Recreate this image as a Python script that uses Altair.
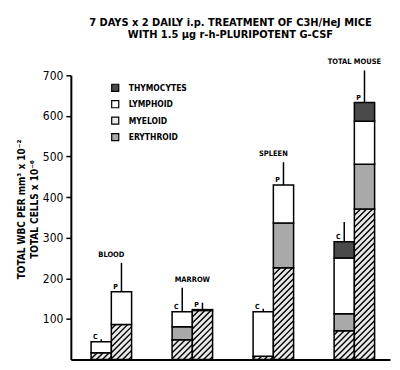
import altair as alt
import pandas as pd

# ---------------- data ----------------
groups = ["BLOOD", "MARROW", "SPLEEN", "TOTAL MOUSE"]
treatments = ["C", "P"]
cell_types = ["THYMOCYTES", "LYMPHOID", "MYELOID", "ERYTHROID"]
stack_order = ["MYELOID", "ERYTHROID", "LYMPHOID", "THYMOCYTES"]

myeloid_c = [17, 49, 8, 71]
myeloid_p = [86, 121, 226, 371]
erythroid_c = [0, 32, 0, 42]
erythroid_p = [0, 0, 110, 110]
lymphoid_c = [27, 37, 110, 137]
lymphoid_p = [81, 2, 94, 106]
thymocytes_c = [0, 0, 0, 40]
thymocytes_p = [0, 0, 0, 46]
error_top_c = [50, 177, 125, 339]
error_top_p = [238, 140, 486, 712]

title_lines = ["7 DAYS  x 2 DAILY i.p. TREATMENT OF C3H/HeJ MICE",
               "WITH 1.5 \u03bcg r-h-PLURIPOTENT G-CSF"]
y_title = ["TOTAL WBC PER mm\u00b3 x 10\u207b\u00b2", "TOTAL CELLS x 10\u207b\u2076"]
y_ticks = [100, 200, 300, 400, 500, 600, 700]

# ---------------- layout / style ----------------
W, H = 320, 285
XMIN, XMAX = -0.5, 3.44
YMAX = 700
BAR_W = 0.25
PXX = W / (XMAX - XMIN)
PXY = H / YMAX
HATCH = 6.0
FONT = "DejaVu Sans Condensed, Liberation Sans Narrow, DejaVu Sans, sans-serif"
fills = ["#4a4a4a", "#ffffff", "#eaeaea", "#a9a9a9"]

values = {
    ("C", "MYELOID"): myeloid_c, ("P", "MYELOID"): myeloid_p,
    ("C", "ERYTHROID"): erythroid_c, ("P", "ERYTHROID"): erythroid_p,
    ("C", "LYMPHOID"): lymphoid_c, ("P", "LYMPHOID"): lymphoid_p,
    ("C", "THYMOCYTES"): thymocytes_c, ("P", "THYMOCYTES"): thymocytes_p,
}
errs = {"C": error_top_c, "P": error_top_p}

seg_rows, bar_rows, hatch_rows, group_rows = [], [], [], []
for gi, g in enumerate(groups):
    for t in treatments:
        x0 = gi - BAR_W if t == "C" else gi
        x1 = x0 + BAR_W
        base = 0
        for ct in stack_order:
            v = values[(t, ct)][gi]
            if v <= 0:
                continue
            seg_rows.append(dict(x0=x0, x1=x1, y0=base, y1=base + v, cell=ct))
            if ct == "MYELOID":
                w_px = (x1 - x0) * PXX
                h_px = v * PXY
                c = -w_px + HATCH / 2
                while c < h_px:
                    us = max(0.0, -c)
                    ue = min(w_px, h_px - c)
                    if ue > us:
                        hatch_rows.append(dict(x0=x0 + us / PXX, x1=x0 + ue / PXX,
                                               y0=base + (us + c) / PXY,
                                               y1=base + (ue + c) / PXY))
                    c += HATCH
            base += v
        bar_rows.append(dict(x0=(x0 + x1) / 2, y0=base, y1=errs[t][gi], lab=t))
    group_rows.append(dict(x0=gi, y0=max(error_top_c[gi], error_top_p[gi]), name=g))

seg_df = pd.DataFrame(seg_rows)
bar_df = pd.DataFrame(bar_rows)
hatch_df = pd.DataFrame(hatch_rows)
group_df = pd.DataFrame(group_rows)

x_scale = alt.Scale(domain=[XMIN, XMAX], nice=False, zero=False)
y_scale = alt.Scale(domain=[0, YMAX], nice=False)
x_axis = alt.Axis(labels=False, ticks=False, title=None, grid=False,
                  domainColor="black", domainWidth=2)
y_axis = alt.Axis(values=y_ticks, grid=False, domainColor="black", domainWidth=2,
                  tickColor="black", tickWidth=1.5, tickSize=5,
                  labelFont=FONT, labelFontSize=12, labelColor="black",
                  labelPadding=3, title=y_title, titleFont=FONT,
                  titleFontSize=10, titleFontWeight="bold", titleColor="black",
                  titleAngle=-90, titleX=-49, titleY=134,
                  titleBaseline="middle", titleAlign="center",
                  titleLineHeight=12.5)
X = alt.X("x0:Q", scale=x_scale, axis=x_axis)
Y = alt.Y("y0:Q", scale=y_scale, axis=y_axis)

rects = alt.Chart(seg_df).mark_rect(stroke="black", strokeWidth=1.5).encode(
    x=X, x2="x1:Q", y=Y, y2="y1:Q",
    color=alt.Color("cell:N", scale=alt.Scale(domain=cell_types, range=fills),
                    legend=alt.Legend(orient="none", legendX=40, legendY=8, title=None,
                                      symbolType="square", symbolSize=50,
                                      symbolStrokeColor="black", symbolStrokeWidth=1.2,
                                      symbolOpacity=1, labelFont=FONT, labelFontSize=8.5,
                                      labelFontWeight="bold", labelColor="black",
                                      labelOffset=9, rowPadding=3.5, padding=0)),
)

hatch = alt.Chart(hatch_df).mark_rule(color="black", strokeWidth=1.4).encode(
    x=X, x2="x1:Q", y=Y, y2="y1:Q",
)

errbars = alt.Chart(bar_df).mark_rule(color="black", strokeWidth=1.5).encode(
    x=X, y=Y, y2="y1:Q",
)

cp_labels = alt.Chart(bar_df).mark_text(
    baseline="bottom", dx=-6, dy=-2, font=FONT, fontSize=7, fontWeight="bold", color="black"
).encode(x=X, y=Y, text="lab:N")

group_labels = alt.Chart(group_df).mark_text(
    baseline="bottom", dy=-4, font=FONT, fontSize=7.5, fontWeight="bold", color="black"
).encode(x=X, y=Y, text="name:N")

chart = alt.layer(rects, hatch, errbars, cp_labels, group_labels).properties(
    width=W, height=H,
    autosize=alt.AutoSizeParams(type="none"),
    padding={"left": 63, "top": 67, "right": 2, "bottom": 2},
    background="white",
    title=alt.TitleParams(text=title_lines, anchor="middle", frame="group", offset=18,
                          font=FONT, fontSize=11, fontWeight="bold", color="black",
                          lineHeight=13),
).configure_view(stroke=None)

chart.save("out.html", embed_options={"renderer": "svg", "actions": False})
